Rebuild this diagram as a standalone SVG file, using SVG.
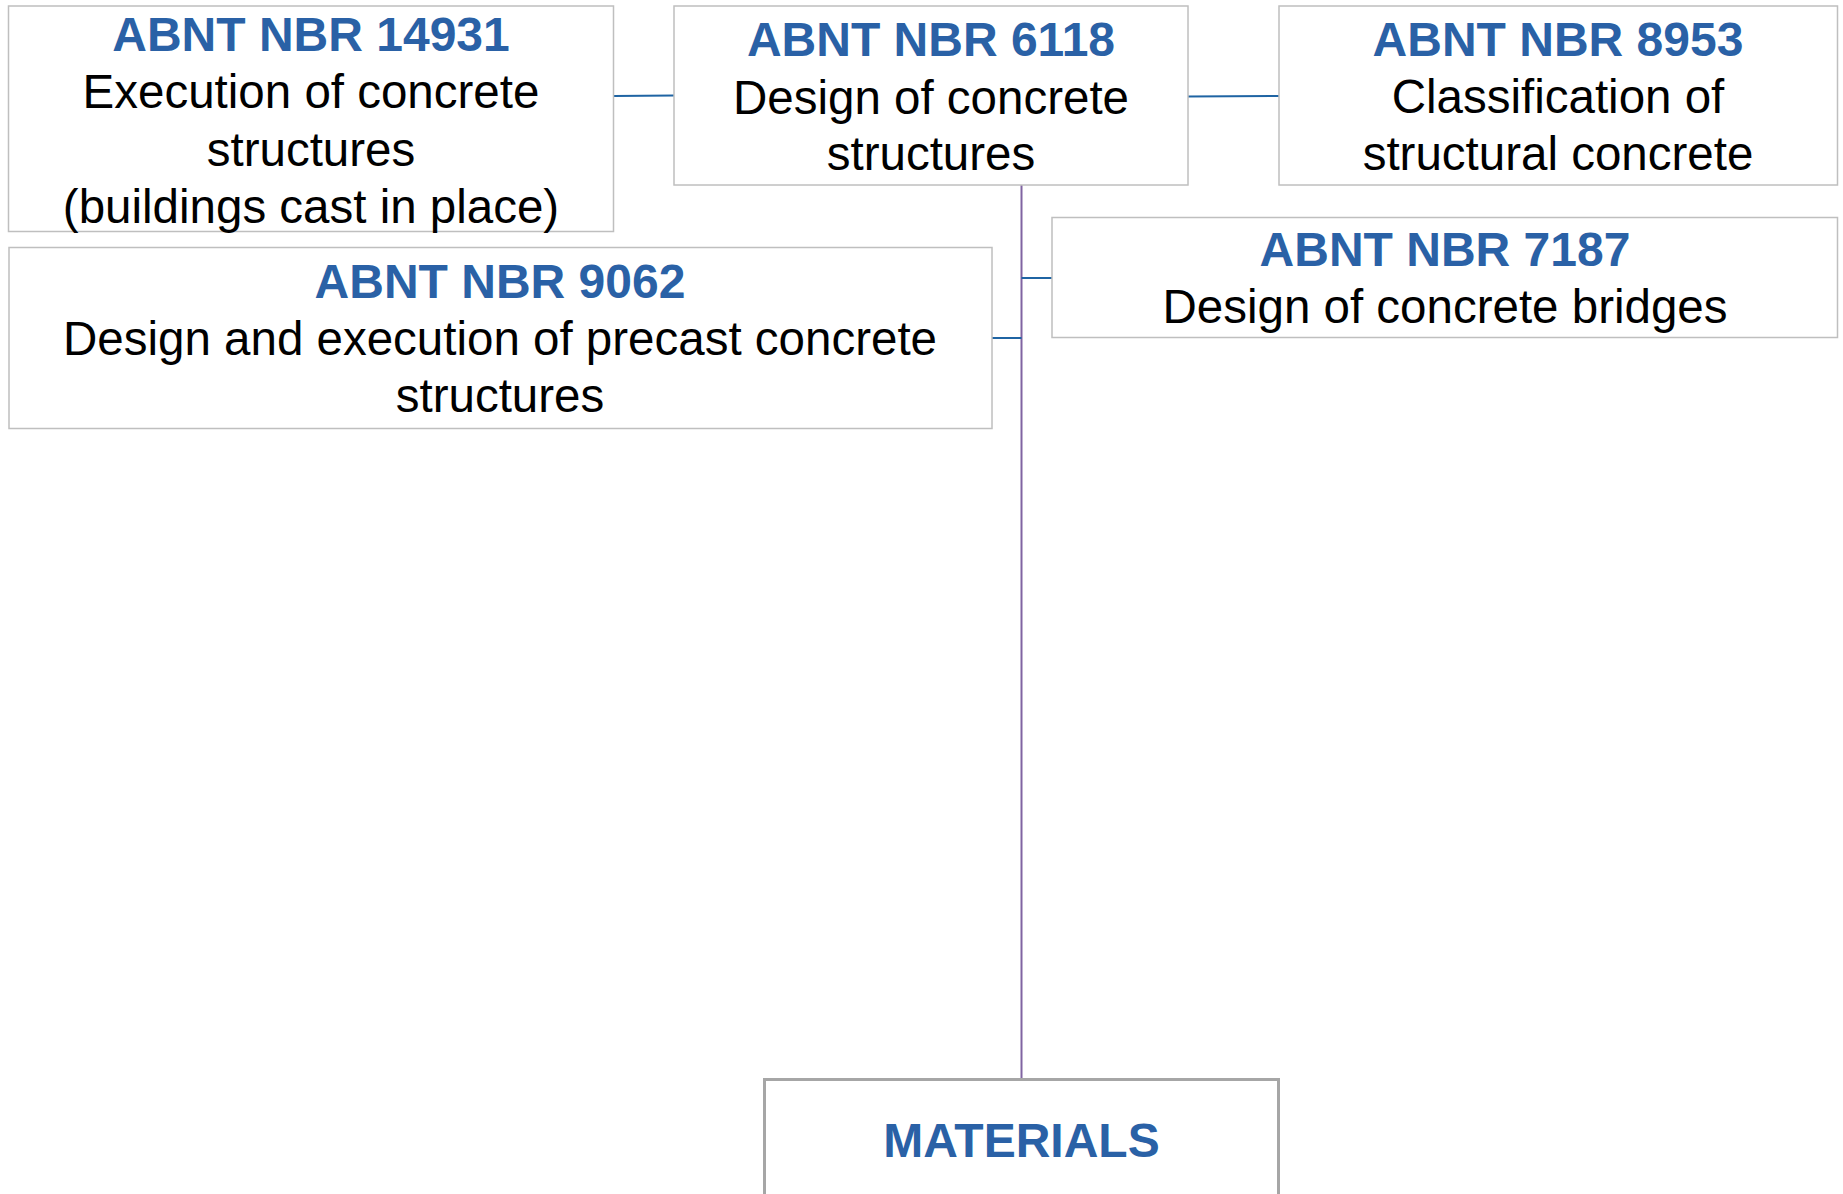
<svg xmlns="http://www.w3.org/2000/svg" width="1843" height="1194" viewBox="0 0 1843 1194">
<style>
.box{fill:#FFFFFF;stroke:#BFBFBF;stroke-width:1.5}
.boxm{fill:#FFFFFF;stroke:#A6A6A6;stroke-width:3}
.t{font-family:"Liberation Sans",Arial,sans-serif;font-size:48px;font-weight:bold;fill:#2A61A6;text-anchor:middle}
.d{font-family:"Liberation Sans",Arial,sans-serif;font-size:47.5px;fill:#000000;text-anchor:middle}
.cb{stroke:#1F64A3;stroke-width:2;fill:none}
.cp{stroke:#8064A2;stroke-width:2;fill:none}
</style>
<rect width="1843" height="1194" fill="#FFFFFF"/>
<g id="connectors">
<line class="cb" x1="614" y1="96" x2="674" y2="95.5"/>
<line class="cb" x1="1188" y1="96.5" x2="1279" y2="96"/>
<line class="cp" x1="1021.5" y1="185" x2="1021.5" y2="1079"/>
<line class="cb" x1="1021.5" y1="278" x2="1052" y2="278"/>
<line class="cb" x1="992" y1="338" x2="1021.5" y2="338"/>
</g>
<g id="node-14931">
<rect class="box" x="8.5" y="6" width="605" height="225.5"/>
<text class="t" x="311" y="51">ABNT NBR 14931</text>
<text class="d" x="311" y="108">Execution of concrete</text>
<text class="d" x="311" y="166">structures</text>
<text class="d" x="311" y="223">(buildings cast in place)</text>
</g>
<g id="node-6118">
<rect class="box" x="674" y="6" width="514" height="179"/>
<text class="t" x="931" y="56">ABNT NBR 6118</text>
<text class="d" x="931" y="113.5">Design of concrete</text>
<text class="d" x="931" y="170">structures</text>
</g>
<g id="node-8953">
<rect class="box" x="1279" y="6" width="558.5" height="179"/>
<text class="t" x="1558" y="56">ABNT NBR 8953</text>
<text class="d" x="1558" y="113">Classification of</text>
<text class="d" x="1558" y="170">structural concrete</text>
</g>
<g id="node-7187">
<rect class="box" x="1052" y="217.5" width="785.5" height="120"/>
<text class="t" x="1445" y="266">ABNT NBR 7187</text>
<text class="d" x="1445" y="323">Design of concrete bridges</text>
</g>
<g id="node-9062">
<rect class="box" x="9" y="247.5" width="983" height="181"/>
<text class="t" x="500" y="298">ABNT NBR 9062</text>
<text class="d" x="500" y="355">Design and execution of precast concrete</text>
<text class="d" x="500" y="412">structures</text>
</g>
<g id="node-materials">
<rect class="boxm" x="764.5" y="1079.5" width="514" height="180"/>
<text class="t" x="1021.5" y="1157">MATERIALS</text>
</g>
</svg>
